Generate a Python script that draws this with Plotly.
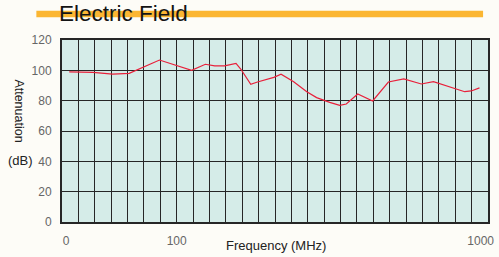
import plotly.graph_objects as go

# Data (x in grid-cell units of the chart's frequency axis, y in dB)
freq_pos = [0.44, 1.89, 3.09, 4.10, 5.95, 7.91, 8.75, 9.32, 9.92, 10.62, 10.92,
            11.52, 11.93, 12.93, 13.37, 14.14, 14.94, 15.54, 16.34, 16.95, 17.35,
            18.05, 18.96, 19.92, 20.86, 21.93, 22.67, 23.78, 24.58, 24.98, 25.48]
attenuation = [99.0, 98.6, 97.5, 98.0, 106.8, 100.0, 104.0, 102.9, 102.9, 104.6, 100.7,
               90.8, 92.3, 95.4, 97.4, 92.5, 85.9, 82.0, 78.9, 76.9, 77.8,
               84.4, 79.8, 92.3, 94.3, 91.0, 92.5, 88.6, 85.9, 86.4, 88.4]
x_tick_pos = [0.25, 7, 25.55]
x_tick_labels = ["0", "100", "1000"]
y_ticks = [0, 20, 40, 60, 80, 100, 120]

W, H = 499, 257
L, R, T, B = 62, 494, 40, 222


def px(x):
    return (x - L) / (R - L)


def py(y):
    return (B - y) / (B - T)


fig = go.Figure()
fig.add_trace(go.Scatter(x=freq_pos, y=attenuation, mode="lines",
                         line=dict(color="#e8203a", width=1.2), hoverinfo="skip"))

grid = "#262626"
fig.update_layout(
    width=W, height=H,
    margin=dict(l=L, r=W - R, t=T, b=H - B, pad=0),
    paper_bgcolor="#fdfcf7",
    plot_bgcolor="#d5ece8",
    showlegend=False,
    font=dict(family="Liberation Sans, Arial, sans-serif", color="#666", size=12),
    xaxis=dict(range=[0, 26], tickmode="array", tickvals=x_tick_pos, ticktext=x_tick_labels,
               showgrid=False, zeroline=False, showline=True, mirror=True,
               linecolor=grid, linewidth=2, ticks="", ticklabelstandoff=7,
               tickfont=dict(size=12, color="#666"),
               minor=dict(tickmode="linear", tick0=0, dtick=1, showgrid=True,
                          gridcolor=grid, gridwidth=1.3, ticks="")),
    yaxis=dict(range=[0, 120], tickmode="array", tickvals=y_ticks,
               showgrid=True, gridcolor=grid, gridwidth=1.3, zeroline=False,
               showline=True, mirror=True, linecolor=grid, linewidth=2,
               ticks="", ticklabelstandoff=6, tickfont=dict(size=12, color="#666")),
    shapes=[dict(type="rect", xref="paper", yref="paper",
                 x0=px(36), x1=px(489), y0=py(17.3), y1=py(10.7),
                 fillcolor="#fbb632", line=dict(width=0), layer="above")],
    annotations=[
        dict(text="Electric Field", xref="paper", yref="paper", x=px(57), y=py(13.8),
             xanchor="left", yanchor="middle", showarrow=False,
             font=dict(size=22.5, color="#141414", family="Liberation Sans, Arial, sans-serif")),
        dict(text="Frequency (MHz)", xref="paper", yref="paper", x=px(279), y=py(245),
             xanchor="center", yanchor="middle", showarrow=False,
             font=dict(size=13, color="#222")),
        dict(text="Attenuation", xref="paper", yref="paper", x=px(18), y=py(111),
             xanchor="center", yanchor="middle", showarrow=False, textangle=90,
             font=dict(size=12.5, color="#222")),
        dict(text="(dB)", xref="paper", yref="paper", x=px(19.5), y=py(160),
             xanchor="center", yanchor="middle", showarrow=False,
             font=dict(size=13, color="#222")),
    ],
)

fig.write_html("out.html")
